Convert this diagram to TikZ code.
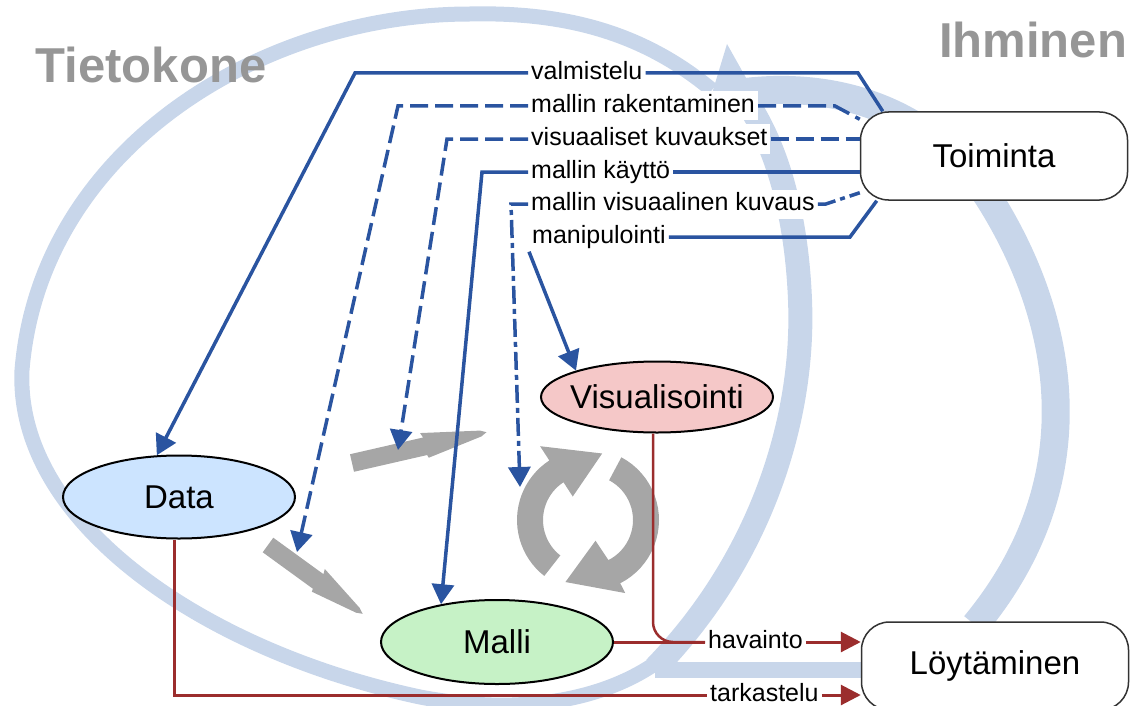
\documentclass[tikz,border=0pt]{standalone}
\usepackage{fontspec}
\setmainfont{Liberation Sans}
\usetikzlibrary{arrows.meta,shapes.geometric,positioning}
\definecolor{sininen}{RGB}{42,84,160}
\definecolor{punainen}{RGB}{155,45,45}
\definecolor{tausta}{RGB}{200,214,234}
\definecolor{harmaa}{RGB}{166,166,166}
\definecolor{otsikko}{RGB}{150,150,150}
\definecolor{datavari}{RGB}{204,228,255}
\definecolor{visvari}{RGB}{245,200,200}
\definecolor{mallivari}{RGB}{198,242,198}
\tikzset{
	soikio/.style={ellipse, draw=black, line width=2pt, minimum width=232pt, font=\fontsize{33}{38}\selectfont},
	laatikko/.style={rectangle, rounded corners=28pt, draw=black!80, line width=1.5pt, fill=white, minimum width=267pt, minimum height=88pt, font=\fontsize{33}{38}\selectfont},
	nimi/.style={anchor=west, fill=white, inner sep=3pt, text height=18pt, text depth=5pt, font=\fontsize{25}{30}\selectfont},
	otsikkoteksti/.style={text=otsikko, font=\fontsize{49}{55}\selectfont\bfseries},
	sin/.style={draw=sininen, line width=3.5pt},
	katko/.style={sin, dash pattern=on 18pt off 7pt},
	pisteviiva/.style={sin, dash pattern=on 18pt off 5pt on 5pt off 5pt},
	pun/.style={draw=punainen, line width=3pt},
	sinkarki/.style={-{Triangle[length=20pt,width=22pt]}},
	punkarki/.style={-{Triangle[length=20pt,width=20pt]}}
}
\begin{document}
\begin{tikzpicture}[x=1pt, y=-1pt]
	% page frame
	\useasboundingbox (0,0) rectangle (1134,706);

	% background loops
	\draw[tausta, line width=15pt] (712,90) .. controls (640,30) and (560,12) .. (470,14)
		.. controls (260,14) and (40,150) .. (22,370)
		.. controls (15,520) and (200,650) .. (420,697)
		.. controls (540,720) and (620,690) .. (660,660);
	\draw[tausta, line width=24pt] (655,668) .. controls (760,560) and (805,420) .. (800,300)
		.. controls (796,200) and (770,130) .. (738,90);
	\fill[tausta] (710,100) -- (727,44) -- (754,92) -- cycle;
	\draw[tausta, line width=16pt] (655,670) -- (870,670);
	\draw[tausta, line width=28pt] (745,92) .. controls (850,80) and (940,120) .. (990,200)
		.. controls (1065,320) and (1095,480) .. (975,625);

	% titles
	\node[otsikkoteksti] (tieto) at (151,65) {Tietokone};
	\node[otsikkoteksti] (ihmi) at (1033,40) {Ihminen};

	% gray arrows
	\begin{scope}[shift={(352,463)}, rotate=12.9]
		\fill[harmaa] (0,-9) -- (75,-9) -- (73,-14) -- (132,-3) -- (138,0) -- (132,3) -- (76,12) -- (75,9) -- (0,9) -- cycle;
	\end{scope}
	\begin{scope}[shift={(268,545)}, rotate=-36]
		\fill[harmaa] (0,-9) -- (62,-9) -- (60,-14) -- (111,-3) -- (117,0) -- (111,3) -- (63,12) -- (62,9) -- (0,9) -- cycle;
	\end{scope}
	\begin{scope}[shift={(588,520)}]
		\fill[harmaa] plot[domain=128:237, samples=25] (\x:71) -- (237:88) -- (282:68) -- (237:28) -- plot[domain=237:128, samples=25] (\x:45) -- cycle;
		\fill[harmaa] plot[domain=298:423, samples=25] (\x:71) -- (423:82) -- (470:66) -- (430:22) -- plot[domain=423:298, samples=25] (\x:45) -- cycle;
	\end{scope}
	\coordinate (ylanuoli) at (398,450);
	\coordinate (alanuoli) at (297,552);
	\coordinate (kierto) at (520,487);

	% main nodes
	\node[soikio, fill=datavari, minimum height=83pt] (data) at (179,497) {Data};
	\node[soikio, fill=visvari, minimum height=71pt, inner xsep=-25pt] (vis) at (657,397) {Visualisointi};
	\node[soikio, fill=mallivari, minimum height=84pt] (malli) at (497,642) {Malli};
	\node[laatikko] (toi) at (994,156) {Toiminta};
	\node[laatikko] (loy) at (995,666) {Löytäminen};

	% activity labels
	\node[nimi] (valm) at (528,73) {valmistelu};
	\node[nimi] (rak) at (528,106) {mallin rakentaminen};
	\node[nimi] (vkuv) at (528,139) {visuaaliset kuvaukset};
	\node[nimi] (kay) at (528,172) {mallin käyttö};
	\node[nimi] (mvk) at (528,204) {mallin visuaalinen kuvaus};
	\node[nimi] (man) at (529,237) {manipulointi};
	\node[nimi] (hav) at (705,642) {havainto};
	\node[nimi] (tark) at (707,695) {tarkastelu};

	% toiminta side
	\draw[sin] (valm.east) -- (858,73) -- ([xshift=23pt]toi.north west);
	\draw[katko] (rak.east) -- (835,106) -- ([yshift=-8pt]toi.north west);
	\draw[katko] (vkuv.east) -- (vkuv.east -| toi.west);
	\draw[sin] (kay.east) -- (kay.east -| toi.west);
	\draw[pisteviiva] (mvk.east) -- ++(8,0) -- ([yshift=8pt]toi.south west);
	\draw[sin] (man.east) -- (850,237) -- ([xshift=17pt]toi.south west);

	% tietokone side
	\draw[sin, sinkarki] (valm.west) -- (355,73) -- (data.118);
	\draw[katko, sinkarki] (rak.west) -- (398,106) -- (alanuoli);
	\draw[katko, sinkarki] (vkuv.west) -- (447,139) -- (ylanuoli);
	\draw[sin, sinkarki] (kay.west) -- (482,172) -- (malli.146);
	\draw[pisteviiva, sinkarki] (mvk.west) -- (511,204) -- (kierto);
	\draw[sin, sinkarki] (man.south west) -- (vis.162);

	% findings
	\draw[pun] ([xshift=-5pt]data.south) |- (tark.west);
	\draw[pun, punkarki] (tark.east) -- (tark.east -| loy.west);
	\draw[pun] (malli.east) -- (hav.west);
	\draw[pun, line width=2.5pt, rounded corners=20pt] ([xshift=-4pt]vis.south) |- (hav.west);
	\draw[pun, punkarki] (hav.east) -- (hav.east -| loy.west);
\end{tikzpicture}
\end{document}
